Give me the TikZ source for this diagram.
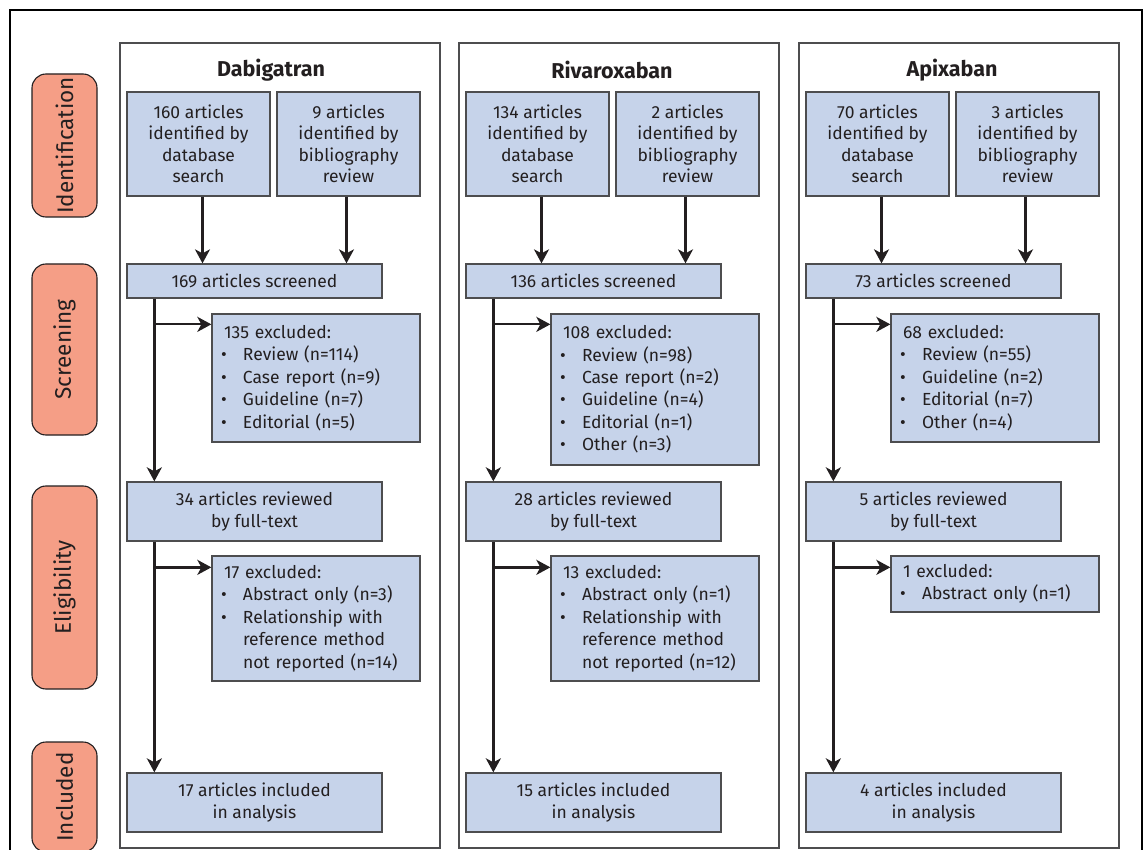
\documentclass[tikz,border=0pt]{standalone}
\usepackage{fontspec}
\setmainfont{Fira Sans}
\usetikzlibrary{arrows.meta,fit,calc}
\definecolor{boxfill}{HTML}{C6D3EA}
\definecolor{boxline}{HTML}{4D4D4F}
\definecolor{stagefill}{HTML}{F59E86}
\definecolor{ink}{HTML}{231F20}
\newcommand\xitm[1]{\makebox[22pt][l]{\textbullet}#1}
\newcommand\xcnt[1]{\hspace*{22pt}#1}
\newcommand\xhd[1]{\hspace*{3pt}#1}
\newcommand\bx[6]{\node[#1, minimum width={#4-#2}, minimum height={#5-#3}] (#6) at ({(#2+#4)/2},{(#3+#5)/2})}
\begin{document}
\begin{tikzpicture}[x=1pt,y=-1pt,
 bbox/.style={draw=boxline, fill=boxfill, line width=1.3pt, inner sep=0pt, align=center, text=ink, font=\fontsize{17.5}{21.5}\selectfont},
 exbox/.style={bbox, align=left, text width=190pt, font=\fontsize{17.5}{22.4}\selectfont},
 panel/.style={draw=boxline, line width=1.1pt, inner sep=0pt},
 stage/.style={draw=ink, fill=stagefill, line width=1.1pt, rounded corners=14pt, rotate=90, inner sep=0pt, minimum height=65pt, text=ink, font=\fontsize{22.5}{27}\selectfont},
 arr/.style={draw=ink, line width=2.3pt, -{Stealth[length=14pt,width=15pt,inset=4pt]}},
 title/.style={text=ink, font=\bfseries\fontsize{21.5}{25}\selectfont}
]
\useasboundingbox (0,0) rectangle (1146,850);
\fill[white] (0,0) rectangle (1146,850);
\draw[line width=2pt, black] (10,860) -- (10,10) -- (1142,10) -- (1142,860);

% stage labels
\node[stage, minimum width=143pt] (sid) at (64.5,145.5) {Identification};
\node[stage, minimum width=171pt] (ssc) at (64.5,349.5) {Screening};
\node[stage, minimum width=203pt] (sel) at (64.5,587.5) {Eligibility};
\node[stage, minimum width=110pt] (sin) at (64.5,797) {Included};

% ---------- Dabigatran ----------
\bx{panel}{120}{43}{440}{848}{dp} {};
\node[title] (dt) at (271,70) {Dabigatran};
\bx{bbox}{127}{92}{270}{196}{d1} {160 articles\\identified by\\database\\search};
\bx{bbox}{277}{92}{420}{196}{d2} {9 articles\\identified by\\bibliography\\review};
\bx{bbox}{127}{264}{382}{298}{ds} {169 articles screened};
\bx{exbox}{212}{314}{420}{442}{de} {\xhd{135 excluded:}\\\xitm{Review (n=114)}\\\xitm{Case report (n=9)}\\\xitm{Guideline (n=7)}\\\xitm{Editorial (n=5)}};
\bx{bbox}{127}{482}{382}{541}{dr} {34 articles reviewed\\by full-text};
\bx{exbox}{212}{556}{420}{681}{df} {\xhd{17 excluded:}\\\xitm{Abstract only (n=3)}\\\xitm{Relationship with}\\\xcnt{reference method}\\\xcnt{not reported (n=14)}};
\bx{bbox}{127}{773}{382}{832}{di} {17 articles included\\in analysis};
\coordinate (dt1) at ($(d1.south)+(4,0)$);
\coordinate (dt2) at ($(d2.south)+(-2,0)$);
\draw[arr] (dt1) -- (dt1 |- ds.north);
\draw[arr] (dt2) -- (dt2 |- ds.north);
\coordinate (dk) at ($(ds.south west)+(28,0)$);
\coordinate (dk2) at ($(dr.south west)+(28,0)$);
\coordinate (db1) at ($(de.north west)+(0,11)$);
\coordinate (db2) at ($(df.north west)+(0,12)$);
\draw[arr] (dk) -- (dk |- dr.north);
\draw[arr] (dk2) -- (dk2 |- di.north);
\draw[arr] (dk |- db1) -- (db1);
\draw[arr] (dk2 |- db2) -- (db2);

% ---------- Rivaroxaban ----------
\bx{panel}{459}{43}{779}{848}{rp} {};
\node[title] (rt) at (612,70) {Rivaroxaban};
\bx{bbox}{466}{92}{609}{196}{r1} {134 articles\\identified by\\database\\search};
\bx{bbox}{616}{92}{759}{196}{r2} {2 articles\\identified by\\bibliography\\review};
\bx{bbox}{466}{264}{721}{298}{rs} {136 articles screened};
\bx{exbox}{551}{314}{759}{465}{re} {\xhd{108 excluded:}\\\xitm{Review (n=98)}\\\xitm{Case report (n=2)}\\\xitm{Guideline (n=4)}\\\xitm{Editorial (n=1)}\\\xitm{Other (n=3)}};
\bx{bbox}{466}{482}{721}{541}{rr} {28 articles reviewed\\by full-text};
\bx{exbox}{551}{556}{759}{681}{rf} {\xhd{13 excluded:}\\\xitm{Abstract only (n=1)}\\\xitm{Relationship with}\\\xcnt{reference method}\\\xcnt{not reported (n=12)}};
\bx{bbox}{466}{773}{721}{832}{ri} {15 articles included\\in analysis};
\coordinate (rt1) at ($(r1.south)+(4,0)$);
\coordinate (rt2) at ($(r2.south)+(-2,0)$);
\draw[arr] (rt1) -- (rt1 |- rs.north);
\draw[arr] (rt2) -- (rt2 |- rs.north);
\coordinate (rk) at ($(rs.south west)+(28,0)$);
\coordinate (rk2) at ($(rr.south west)+(28,0)$);
\coordinate (rb1) at ($(re.north west)+(0,11)$);
\coordinate (rb2) at ($(rf.north west)+(0,12)$);
\draw[arr] (rk) -- (rk |- rr.north);
\draw[arr] (rk2) -- (rk2 |- ri.north);
\draw[arr] (rk |- rb1) -- (rb1);
\draw[arr] (rk2 |- rb2) -- (rb2);

% ---------- Apixaban ----------
\bx{panel}{799}{43}{1119}{848}{ap} {};
\node[title] (at) at (952,70) {Apixaban};
\bx{bbox}{806}{92}{949}{196}{a1} {70 articles\\identified by\\database\\search};
\bx{bbox}{956}{92}{1099}{196}{a2} {3 articles\\identified by\\bibliography\\review};
\bx{bbox}{806}{264}{1061}{298}{as} {73 articles screened};
\bx{exbox}{891}{314}{1099}{442}{ae} {\xhd{68 excluded:}\\\xitm{Review (n=55)}\\\xitm{Guideline (n=2)}\\\xitm{Editorial (n=7)}\\\xitm{Other (n=4)}};
\bx{bbox}{806}{482}{1061}{541}{ar} {5 articles reviewed\\by full-text};
\bx{exbox}{891}{556}{1099}{612}{af} {\xhd{1 excluded:}\\\xitm{Abstract only (n=1)}};
\bx{bbox}{806}{773}{1061}{832}{ai} {4 articles included\\in analysis};
\coordinate (at1) at ($(a1.south)+(4,0)$);
\coordinate (at2) at ($(a2.south)+(-2,0)$);
\draw[arr] (at1) -- (at1 |- as.north);
\draw[arr] (at2) -- (at2 |- as.north);
\coordinate (ak) at ($(as.south west)+(28,0)$);
\coordinate (ak2) at ($(ar.south west)+(28,0)$);
\coordinate (ab1) at ($(ae.north west)+(0,11)$);
\coordinate (ab2) at ($(af.north west)+(0,12)$);
\draw[arr] (ak) -- (ak |- ar.north);
\draw[arr] (ak2) -- (ak2 |- ai.north);
\draw[arr] (ak |- ab1) -- (ab1);
\draw[arr] (ak2 |- ab2) -- (ab2);
\end{tikzpicture}
\end{document}
